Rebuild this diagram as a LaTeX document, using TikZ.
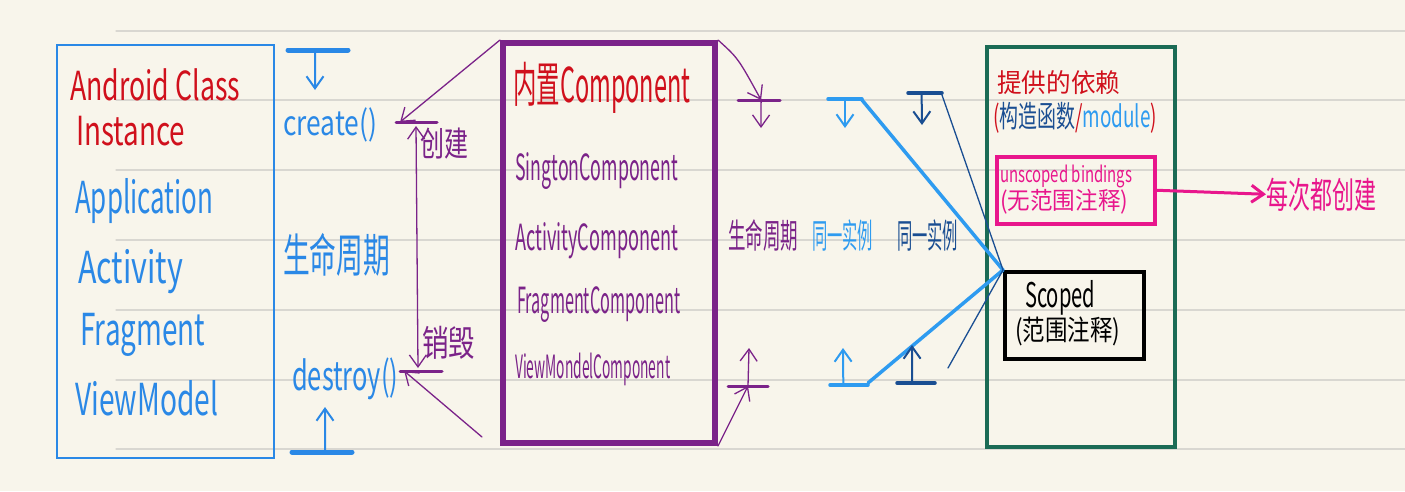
\documentclass[tikz,border=0pt]{standalone}
\usepackage{fontspec}
\setmainfont{Noto Sans CJK SC}
\usetikzlibrary{arrows.meta}
\definecolor{carta}{HTML}{F8F5EB}
\definecolor{riga}{HTML}{D9D7D1}
\definecolor{blu}{HTML}{2A88E6}
\definecolor{rosso}{HTML}{D0101C}
\definecolor{viola}{HTML}{7B2389}
\definecolor{azzurro}{HTML}{2E9BF0}
\definecolor{blunotte}{HTML}{1A4E92}
\definecolor{verde}{HTML}{1B6B55}
\definecolor{fucsia}{HTML}{E8168C}
\newcommand{\largh}[2]{\resizebox{#1}{\height}{#2}}
\newcommand{\fs}[1]{\fontsize{#1}{#1}\selectfont}

\begin{document}
\begin{tikzpicture}[x=1pt,y=-1pt,line cap=round,
    testo/.style={inner sep=0pt,anchor=base west},
    scatola/.style={inner sep=0pt,anchor=north west},
    punta/.style={-{Straight Barb[length=12pt,width=17pt]}},
    barra/.style={line width=4pt}]
        \useasboundingbox[fill=carta](0,0) rectangle (1405,491);
        %righe del quaderno
        \foreach \yy in {31,100,170,240,310,380,449}
            \draw[riga,line width=1.3pt](116,\yy)--(1405,\yy);
        %riquadro classi android
        \node[scatola,draw=blu,line width=1.6pt,minimum width=217pt,minimum height=413pt] (classi) at (56,44) {};
        \node[testo,text=rosso,font=\fs{40}] (android) at (70,100) {\largh{170pt}{Android Class}};
        \node[testo,text=rosso,font=\fs{40}] (istanza) at (76,145) {\largh{109pt}{Instance}};
        \node[testo,text=blu,font=\fs{44}] (app) at (75,213) {\largh{138pt}{Application}};
        \node[testo,text=blu,font=\fs{44}] (att) at (78,283) {\largh{105pt}{Activity}};
        \node[testo,text=blu,font=\fs{44}] (fram) at (80,345) {\largh{125pt}{Fragment}};
        \node[testo,text=blu,font=\fs{44}] (vm) at (75,415) {\largh{143pt}{ViewModel}};
        %ciclo di vita
        \node[testo,text=blu,font=\fs{34}] (crea) at (283,135) {\largh{94pt}{create()}};
        \node[testo,text=blu,font=\fs{46}] (ciclo) at (283,272) {\largh{107pt}{生命周期}};
        \node[testo,text=blu,font=\fs{40}] (distr) at (292,390) {\largh{106pt}{destroy()}};
        \draw[blu,barra,line width=5pt](288,50)--(348,50) coordinate[pos=0.45] (tsu); %barra alta
        \coordinate (tsufine) at (315,90);
        \draw[blu,punta,line width=2pt](tsu)--(tsufine);
        \draw[blu,barra,line width=5pt](292,452)--(352,452) coordinate[pos=0.55] (tgiu); %barra bassa
        \coordinate (tgiufine) at (325,407);
        \draw[blu,punta,line width=2pt](tgiu)--(tgiufine);
        %componenti
        \node[scatola,draw=viola,line width=6pt,minimum width=212pt,minimum height=400pt] (comp) at (500,40) {};
        \node[testo,text=rosso,font=\fs{48}] (interno) at (513,102) {\largh{177pt}{内置Component}};
        \node[testo,text=viola,font=\fs{36}] (singolo) at (515,180) {\largh{163pt}{SingtonComponent}};
        \node[testo,text=viola,font=\fs{36}] (attcomp) at (515,250) {\largh{163pt}{ActivityComponent}};
        \node[testo,text=viola,font=\fs{36}] (framcomp) at (517,313) {\largh{163pt}{FragmentComponent}};
        \node[testo,text=viola,font=\fs{32}] (vmcomp) at (515,378) {\largh{155pt}{ViewMondelComponent}};
        %frecce viola a sinistra
        \draw[viola,barra,line width=3pt](396,122)--(437,122) coordinate[pos=0.1] (pcrea);
        \draw[viola,barra,line width=3pt](400,371)--(442,371) coordinate[pos=0.1] (pdistr);
        \draw[viola,punta,line width=1.3pt](comp.north west)--(pcrea);
        \draw[viola,punta,line width=1.3pt](482,437)--(pdistr);
        \coordinate (vsu) at (416,126);
        \coordinate (vgiu) at (418,368);
        \draw[viola,{Straight Barb[length=12pt,width=17pt]}-{Straight Barb[length=12pt,width=17pt]},line width=1.3pt](vsu)--(vgiu); %creazione-distruzione
        \node[testo,text=viola,font=\fs{34}] (creare) at (420,156) {\largh{48pt}{创建}};
        \node[testo,text=viola,font=\fs{36}] (distrug) at (422,356) {\largh{53pt}{销毁}};
        %frecce viola a destra
        \draw[viola,barra,line width=3pt](738,100)--(780,100) coordinate[pos=0.55] (dsu);
        \coordinate (dsufine) at (761,128);
        \draw[viola,punta,line width=1.3pt](comp.north east) .. controls (738,58) .. (dsu);
        \draw[viola,punta,line width=1.3pt](dsu)--(dsufine);
        \draw[viola,barra,line width=3pt](728,386)--(768,386) coordinate[pos=0.5] (dgiu);
        \coordinate (dgiufine) at (749,348);
        \draw[viola,punta,line width=1.3pt](dgiu)--(dgiufine);
        \draw[viola,punta,line width=1.3pt](comp.south east)--(dgiu);
        \node[testo,text=viola,font=\fs{34}] (ciclo2) at (728,248) {\largh{70pt}{生命周期}};
        \node[testo,text=azzurro,font=\fs{34}] (stessa1) at (812,248) {\largh{61pt}{同一实例}};
        \node[testo,text=blunotte,font=\fs{34}] (stessa2) at (897,248) {\largh{61pt}{同一实例}};
        %dipendenze fornite
        \node[scatola,draw=verde,line width=3.5pt,minimum width=188pt,minimum height=400pt] (dip) at (985,45) {};
        \node[testo,text=rosso,font=\fs{26}] (fornite) at (997,92) {\largh{123pt}{提供的依赖}};
        \node[testo,font=\fs{30}] (costr) at (993,127) {\largh{164pt}{{\color{rosso}(}{\color{blunotte}构造函数}{\color{rosso}/}{\color{azzurro}module}{\color{rosso})}}};
        \node[scatola,draw=fucsia,line width=3.5pt,minimum width=158pt,minimum height=67pt] (libere) at (995,155) {};
        \node[testo,text=fucsia,font=\fs{22}] (unsc) at (1000,182) {\largh{132pt}{unscoped bindings}};
        \node[testo,text=fucsia,font=\fs{24}] (unsc2) at (1000,209) {\largh{128pt}{(无范围注释)}};
        \node[testo,text=fucsia,font=\fs{36}] (ogni) at (1266,208) {\largh{110pt}{每次都创建}};
        \draw[fucsia,punta,line width=3pt](libere.east)--(ogni.west);
        \node[scatola,draw=black,line width=4pt,minimum width=139pt,minimum height=87pt] (scop) at (1003,270) {};
        \node[testo,font=\fs{34}] (scop1) at (1025,307) {\largh{70pt}{Scoped}};
        \node[testo,font=\fs{28}] (scop2) at (1015,340) {\largh{105pt}{(范围注释)}};
        %stessa istanza
        \draw[azzurro,barra,line width=3.5pt](828,99)--(862,99) coordinate[pos=0.5] (asu);
        \coordinate (asufine) at (845,128);
        \draw[azzurro,punta,line width=2pt](asu)--(asufine);
        \draw[azzurro,barra,line width=3.5pt](830,385)--(868,385) coordinate[pos=0.35] (agiu);
        \coordinate (agiufine) at (843,348);
        \draw[azzurro,punta,line width=2pt](agiu)--(agiufine);
        \draw[azzurro,line width=3.5pt](862,100)--(scop.north west); %linea azzurra alta
        \draw[azzurro,line width=3.5pt](868,383)--(scop.north west); %linea azzurra bassa
        \draw[blunotte,barra,line width=3.5pt](908,93)--(942,93) coordinate[pos=0.4] (nsu);
        \coordinate (nsufine) at (922,125);
        \draw[blunotte,punta,line width=2pt](nsu)--(nsufine);
        \draw[blunotte,barra,line width=3.5pt](897,383)--(935,383) coordinate[pos=0.4] (ngiu);
        \coordinate (ngiufine) at (912,345);
        \draw[blunotte,punta,line width=2pt](ngiu)--(ngiufine);
        \draw[blunotte,line width=1.3pt](942,95)--(scop.north west); %linea blu alta
        \draw[blunotte,line width=1.3pt](948,368)--(scop.north west); %linea blu bassa
    \end{tikzpicture}
\end{document}
